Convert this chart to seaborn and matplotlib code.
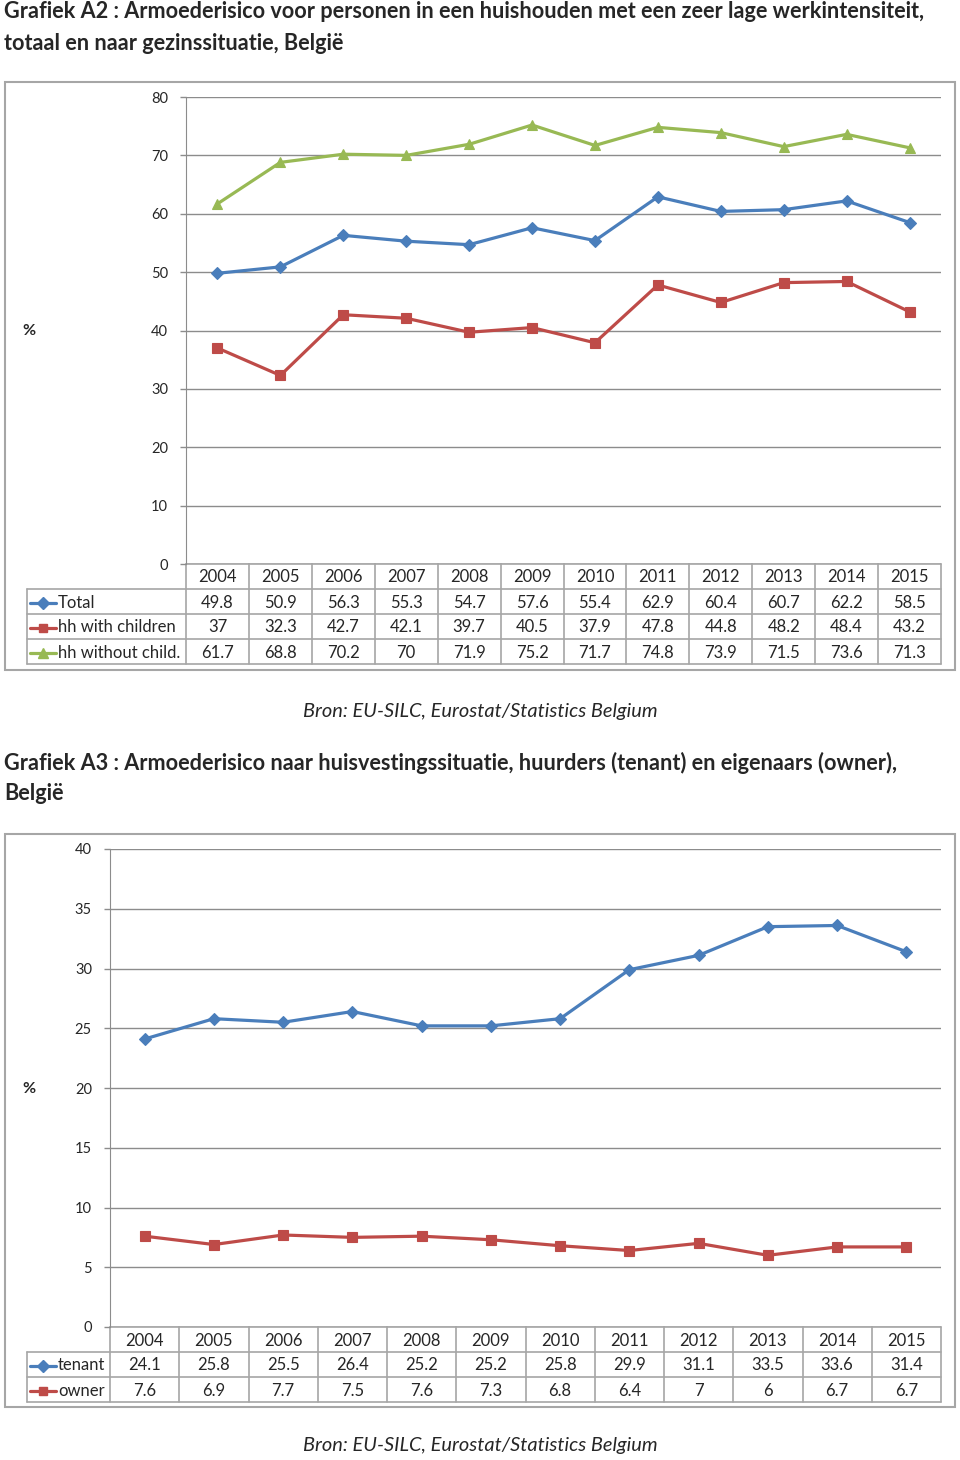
import numpy as np
import pandas as pd
import seaborn as sns
import matplotlib.pyplot as plt
from matplotlib.patches import Rectangle

# --- Data ---
years = ["2004", "2005", "2006", "2007", "2008", "2009", "2010", "2011", "2012", "2013", "2014", "2015"]

total = [49.8, 50.9, 56.3, 55.3, 54.7, 57.6, 55.4, 62.9, 60.4, 60.7, 62.2, 58.5]
hh_children = [37, 32.3, 42.7, 42.1, 39.7, 40.5, 37.9, 47.8, 44.8, 48.2, 48.4, 43.2]
hh_without = [61.7, 68.8, 70.2, 70, 71.9, 75.2, 71.7, 74.8, 73.9, 71.5, 73.6, 71.3]

tenant = [24.1, 25.8, 25.5, 26.4, 25.2, 25.2, 25.8, 29.9, 31.1, 33.5, 33.6, 31.4]
owner = [7.6, 6.9, 7.7, 7.5, 7.6, 7.3, 6.8, 6.4, 7, 6, 6.7, 6.7]

title_a2 = ["Grafiek A2 : Armoederisico voor personen in een huishouden met een zeer lage werkintensiteit,",
            "totaal en naar gezinssituatie, België"]
title_a3 = ["Grafiek A3 : Armoederisico naar huisvestingssituatie, huurders (tenant) en eigenaars (owner),",
            "België"]
source = "Bron: EU-SILC, Eurostat/Statistics Belgium"

BLUE = "#4a7ebb"
RED = "#be4b48"
GREEN = "#98b954"
GRID = "#8c8c8c"
BORDER = "#a6a6a6"

series_a2 = [("Total", total, BLUE, "D", 6.5),
             ("hh with children", hh_children, RED, "s", 6.5),
             ("hh without child.", hh_without, GREEN, "^", 7.5)]
series_a3 = [("tenant", tenant, BLUE, "D", 6.5),
             ("owner", owner, RED, "s", 6.5)]

W, H = 960, 1460
sns.set_style("white")
plt.rcParams["font.family"] = ["Lato", "DejaVu Sans"]

fig = plt.figure(figsize=(W / 100, H / 100), dpi=100)
# overlay in pixel coordinates for titles, frames and the data tables
bg = fig.add_axes([0, 0, 1, 1], zorder=0)
bg.set_xlim(0, W)
bg.set_ylim(H, 0)
bg.axis("off")


def fmt(v):
    return f"{v:g}"


def draw_chart(series, ymax, ystep, box, plot, title, title_y, src_y, pct_y):
    bx0, by0, bx1, by1 = box
    px0, py0, px1, py1 = plot
    legend_x = 27
    row_h = 25

    for i, line in enumerate(title):
        bg.text(4, title_y + i * 31, line, fontsize=15.6, fontweight="bold", va="center", ha="left")

    bg.add_patch(Rectangle((bx0, by0), bx1 - bx0, by1 - by0, fill=False, ec=BORDER, lw=1.5))

    ax = fig.add_axes([px0 / W, 1 - py1 / H, (px1 - px0) / W, (py1 - py0) / H], zorder=2)
    ax.patch.set_alpha(0)
    pos = np.arange(len(years)) + 0.5
    for name, vals, color, marker, ms in series:
        sns.lineplot(x=pos, y=vals, ax=ax, color=color, lw=2.3, marker=marker, markersize=ms,
                     markeredgecolor=color, markeredgewidth=0.8, clip_on=False)
    ax.set_xlim(0, len(years))
    ax.set_ylim(0, ymax)
    ax.set_yticks(np.arange(0, ymax + 1, ystep))
    ax.set_xticks([])
    ax.set_xlabel("")
    ax.set_ylabel("")
    ax.yaxis.grid(True, color=GRID, lw=1)
    ax.set_axisbelow(True)
    for s in ["top", "right", "bottom"]:
        ax.spines[s].set_visible(False)
    ax.spines["left"].set_color(GRID)
    ax.tick_params(axis="y", length=4, width=1, color=GRID, pad=9, labelsize=10.5, left=True)

    bg.text(22, pct_y, "%", fontsize=11.5, fontweight="bold", va="center", ha="left")

    # data table
    cw = (px1 - px0) / len(years)
    n = len(series)
    t0 = py1
    t1 = py1 + row_h * (n + 1)
    kw = dict(color=BORDER, lw=1.2)
    bg.plot([px0, px1], [t0, t0], **kw)
    for r in range(1, n + 2):
        bg.plot([legend_x, px1], [t0 + r * row_h, t0 + r * row_h], **kw)
    for c in range(len(years) + 1):
        bg.plot([px0 + c * cw, px0 + c * cw], [t0, t1], **kw)
    bg.plot([legend_x, legend_x], [t0 + row_h, t1], **kw)

    for c, yr in enumerate(years):
        bg.text(px0 + (c + 0.5) * cw, t0 + row_h / 2 + 1, yr, fontsize=12, ha="center", va="center")
    for r, (name, vals, color, marker, ms) in enumerate(series):
        yc = t0 + (r + 1.5) * row_h + 1
        bg.plot([30, 56], [yc, yc], color=color, lw=2.3)
        bg.plot([43], [yc], color=color, marker=marker, markersize=ms * 0.9, markeredgecolor=color)
        bg.text(58, yc, name, fontsize=12, ha="left", va="center")
        for c, v in enumerate(vals):
            bg.text(px0 + (c + 0.5) * cw, yc, fmt(v), fontsize=12, ha="center", va="center")

    bg.text(W / 2, src_y, source, fontsize=14.4, fontstyle="italic", ha="center", va="center")


draw_chart(series_a2, 80, 10, (5, 82, 955, 670), (186, 97, 941, 564),
           title_a2, 12, 711, 331)
draw_chart(series_a3, 40, 5, (5, 834, 955, 1407), (110, 849, 941, 1327),
           title_a3, 763, 1446, 1089)

fig.savefig("out.png", dpi=100)
